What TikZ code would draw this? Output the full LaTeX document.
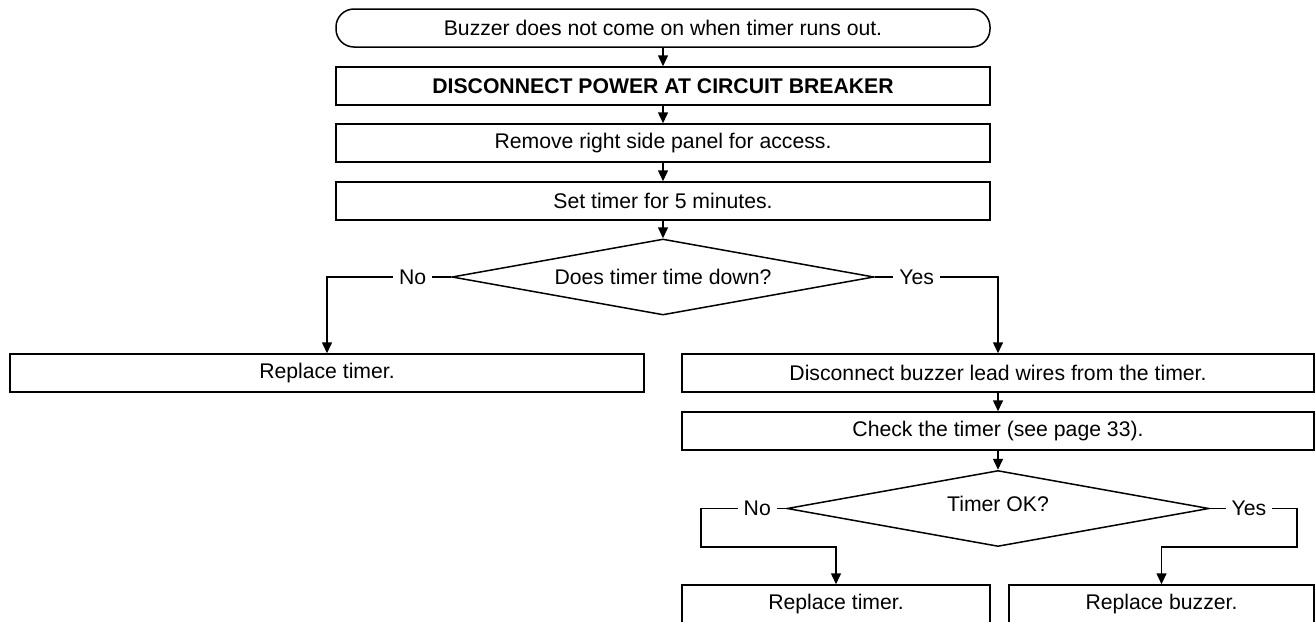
\documentclass[tikz,border=0pt]{standalone}
\usepackage{fontspec}
\setmainfont{Liberation Sans}
\usetikzlibrary{shapes.geometric,arrows.meta}

\begin{document}
\begin{tikzpicture}[x=0.5pt,y=-0.5pt,line width=0.75pt,
  every node/.style={font=\fontsize{10.6}{12.7}\selectfont},
  box/.style={draw,rectangle,minimum height=19pt,inner sep=0pt},
  term/.style={box,rounded corners=9pt},
  decide/.style={draw,diamond,aspect=5.5,inner sep=0pt,minimum width=211pt,minimum height=38pt},
  lbl/.style={fill=white,inner sep=3pt},
  flow/.style={-{Triangle[length=5.5pt,width=5pt]}}]
  \useasboundingbox (0,0) rectangle (1316,621);
  \node[term,minimum width=327pt] (start) at (663,28) {Buzzer does not come on when timer runs out.};
  \node[box,minimum width=327pt] (power) at (663,86) {\textbf{DISCONNECT POWER AT CIRCUIT BREAKER}};
  \node[box,minimum width=327pt] (panel) at (663,143) {Remove right side panel for access.};
  \node[box,minimum width=327pt] (set) at (663,201) {Set timer for 5 minutes.};
  \node[decide] (down) at (663,277) {Does timer time down?};
  \node[box,minimum width=317pt] (timer1) at (327,373) {Replace timer.};
  \node[box,minimum width=316pt] (wires) at (998,373) {Disconnect buzzer lead wires from the timer.};
  \node[box,minimum width=316pt] (check) at (998,431) {Check the timer (see page 33).};
  \node[decide] (ok) at (998,508.5) {\raisebox{5pt}{Timer OK?}};
  \node[box,minimum width=154pt] (timer2) at (836,604) {Replace timer.};
  \node[box,minimum width=152.5pt] (buzzer) at (1161.5,604) {Replace buzzer.};
  \coordinate (nobend) at (701,547);
  \coordinate (yesbend) at (1297,547);

  \draw[flow] (start) -- (power);
  \draw[flow] (power) -- (panel);
  \draw[flow] (panel) -- (set);
  \draw[flow] (set) -- (down);
  \draw[flow] (down.west) -- node[lbl,pos=0.31]{No} (down.west -| timer1.north) -- (timer1.north);
  \draw[flow] (down.east) -- node[lbl,pos=0.34]{Yes} (down.east -| wires.north) -- (wires.north);
  \draw[flow] (wires) -- (check);
  \draw[flow] (check) -- (ok);
  \draw[flow] (ok.west) -- node[lbl,pos=0.34]{No} (ok.west -| nobend) -- (nobend) -- (nobend -| timer2.north) -- (timer2.north);
  \draw[flow] (ok.east) -- node[lbl,pos=0.45]{Yes} (ok.east -| yesbend) -- (yesbend) -- (yesbend -| buzzer.north) -- (buzzer.north);
\end{tikzpicture}
\end{document}
